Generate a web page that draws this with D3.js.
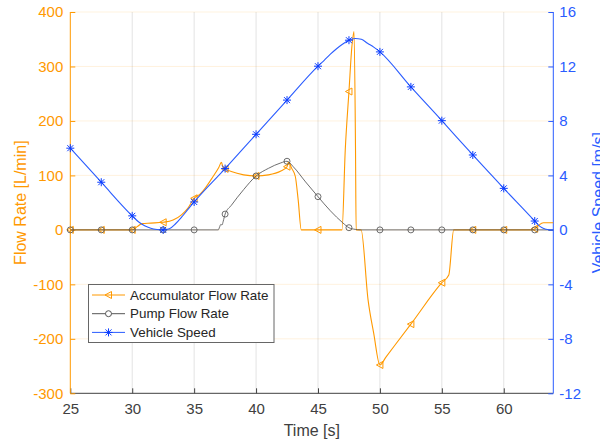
<!DOCTYPE html>
<html>
<head>
<meta charset="utf-8">
<script src="https://cdn.jsdelivr.net/npm/d3@7"></script>
<style>
  body { margin: 0; background: #fff; }
  svg { display: block; font-family: "Liberation Sans", Arial, Helvetica, sans-serif; }
</style>
</head>
<body>
<div id="chart"></div>
<script>
// time [s] and values
var accTime = [25, 27.5, 30, 30.4, 30.8, 31.5, 32.5, 33.3, 34, 34.5, 35, 35.5, 36, 36.5, 37, 37.2, 37.35, 37.5, 38, 39, 40, 41, 42, 42.5, 42.6, 42.9, 43.17, 43.4, 43.65, 45, 46.94, 47.2, 47.5, 47.75, 47.91, 48.03, 48.08, 48.48, 49.04, 49.5, 50, 50.5, 52.5, 55, 55.56, 55.96, 57.5, 60, 62.3, 62.5, 62.8, 63.2, 64];
var accFlow = [0, 0, 0, 6, 11.5, 12.5, 14, 18, 28, 40, 58, 66, 80, 97, 115, 124, 114, 112, 107, 101, 99, 101, 108, 116, 124, 112, 98, 55, 0, 0, 0, 146, 254, 340, 364, 146, 0, 0, -128, -190, -248, -233, -173, -97, -83, 0, 0, 0, 0, 2, 8, 13, 13];

var pumpTime = [25, 27.5, 30, 32.5, 35, 36.95, 37.05, 37.15, 37.25, 37.35, 37.5, 38, 39, 40, 41, 42, 42.5, 43, 44, 45, 46, 47, 47.5, 48, 48.4, 50, 52.5, 55, 57.5, 60, 62.5, 64];
var pumpFlow = [0, 0, 0, 0, 0, 0, 5, 10, 9, 16, 29, 45, 74, 99, 113, 123, 126, 116, 88, 61, 35, 13, 4, 1, 0, 0, 0, 0, 0, 0, 0, 0];

var speedTime = [25, 27.5, 30, 30.5, 31, 31.5, 32, 32.5, 33, 33.5, 34, 34.5, 35, 37.5, 40, 42.5, 45, 45.5, 46, 46.5, 47, 47.5, 48, 48.5, 49, 49.5, 50, 52.5, 55, 57.5, 60, 62.5, 62.8, 63.1, 63.4, 63.7, 64];
var speedVal = [6.0, 3.5, 1.03, 0.6, 0.3, 0.12, 0.03, 0, 0.08, 0.45, 0.95, 1.5, 2.05, 4.5, 7.02, 9.53, 12.02, 12.45, 12.9, 13.3, 13.65, 13.93, 14.05, 14.0, 13.7, 13.42, 13.07, 10.5, 8.02, 5.5, 3.05, 0.65, 0.35, 0.15, 0.05, 0.01, 0];

var xTicks = [25, 30, 35, 40, 45, 50, 55, 60];
var flowTicks = [-300, -200, -100, 0, 100, 200, 300, 400];
var speedTicks = [-12, -8, -4, 0, 4, 8, 12, 16];
var legendNames = ["Accumulator Flow Rate", "Pump Flow Rate", "Vehicle Speed"];

var W = 600, H = 442,
    pLeft = 70.3, pRight = 553.3, pTop = 12, pBottom = 393.3,
    orange = "#ff9900", blue = "#2a5cff", gray = "#555555", axisGray = "#404040";

var svg = d3.select("#chart").append("svg").attr("width", W).attr("height", H);

var x = d3.scaleLinear().domain([25, 64]).range([pLeft, pRight]);
var yFlow = d3.scaleLinear().domain([-300, 400]).range([pBottom, pTop]);
var ySpeed = d3.scaleLinear().domain([-12, 16]).range([pBottom, pTop]);

function zip(ts, vs){
    return ts.map(function(t, i){ return {t: t, v: vs[i]}; });
}
function isMarker(d){
    var k = d.t / 2.5;
    return Math.abs(k - Math.round(k)) < 1e-6 && d.t <= 62.5;
}
// plain hyphen minus, like the original figure
function plain(d){ return String(d); }

// grid
svg.append("g").selectAll("line").data(xTicks.slice(1)).enter().append("line")
    .attr("x1", function(d){ return x(d); }).attr("x2", function(d){ return x(d); })
    .attr("y1", pTop).attr("y2", pBottom)
    .attr("stroke", "#e3e3e3").attr("stroke-width", 1);
svg.append("g").selectAll("line").data(flowTicks.slice(1)).enter().append("line")
    .attr("x1", pLeft).attr("x2", pRight)
    .attr("y1", function(d){ return yFlow(d); }).attr("y2", function(d){ return yFlow(d); })
    .attr("stroke", "rgba(255,153,0,0.13)").attr("stroke-width", 1);

// axes
var xAxis = d3.axisBottom(x).tickValues(xTicks).tickSize(-5).tickPadding(10).tickFormat(plain);
var gx = svg.append("g").attr("transform", "translate(0," + pBottom + ")").call(xAxis);
gx.select(".domain").attr("stroke", axisGray).attr("d", "M" + pLeft + ",0H" + pRight);
gx.selectAll(".tick line").attr("stroke", axisGray);
gx.selectAll("text").attr("fill", axisGray).attr("font-size", "15px").attr("font-family", null);

var yAxisL = d3.axisLeft(yFlow).tickValues(flowTicks).tickSize(-5).tickPadding(7).tickFormat(plain);
var gyl = svg.append("g").attr("transform", "translate(" + pLeft + ",0)").call(yAxisL);
gyl.select(".domain").attr("stroke", orange).attr("d", "M0," + pTop + "V" + pBottom);
gyl.selectAll(".tick line").attr("stroke", orange);
gyl.selectAll("text").attr("fill", orange).attr("font-size", "15px").attr("font-family", null);

var yAxisR = d3.axisRight(ySpeed).tickValues(speedTicks).tickSize(-5).tickPadding(6).tickFormat(plain);
var gyr = svg.append("g").attr("transform", "translate(" + pRight + ",0)").call(yAxisR);
gyr.select(".domain").attr("stroke", blue).attr("d", "M0," + pTop + "V" + pBottom);
gyr.selectAll(".tick line").attr("stroke", blue);
gyr.selectAll("text").attr("fill", blue).attr("font-size", "15px").attr("font-family", null);

// axis titles
svg.append("text").attr("x", (pLeft + pRight) / 2).attr("y", 436)
    .attr("text-anchor", "middle").attr("font-size", "16px").attr("fill", axisGray).text("Time [s]");
svg.append("text").attr("transform", "translate(25.5," + ((pTop + pBottom) / 2) + ") rotate(-90)")
    .attr("text-anchor", "middle").attr("font-size", "16px").attr("fill", orange).text("Flow Rate [L/min]");
svg.append("text").attr("transform", "translate(603.5," + ((pTop + pBottom) / 2) + ") rotate(-90)")
    .attr("text-anchor", "middle").attr("font-size", "16px").attr("fill", blue).text("Vehicle Speed [m/s]");

// series
var accData = zip(accTime, accFlow),
    pumpData = zip(pumpTime, pumpFlow),
    speedData = zip(speedTime, speedVal);

var flowLine = d3.line().x(function(d){ return x(d.t); }).y(function(d){ return yFlow(d.v); }).curve(d3.curveMonotoneX);
var speedLine = d3.line().x(function(d){ return x(d.t); }).y(function(d){ return ySpeed(d.v); }).curve(d3.curveMonotoneX);

var triangle = "M-3.5,0L3,-3.5L3,3.5Z";
var star = "M-4,0H4M0,-4V4M-3,-3L3,3M-3,3L3,-3";

function drawMarkers(data, yScale, path, fill, stroke){
    svg.append("g").selectAll("path").data(data.filter(isMarker)).enter().append("path")
        .attr("transform", function(d){ return "translate(" + x(d.t) + "," + yScale(d.v) + ")"; })
        .attr("d", path).attr("fill", fill).attr("stroke", stroke).attr("stroke-width", 1);
}

svg.append("path").datum(accData).attr("d", flowLine)
    .attr("fill", "none").attr("stroke", orange).attr("stroke-width", 1.1);
drawMarkers(accData, yFlow, triangle, "none", orange);

svg.append("path").datum(pumpData).attr("d", flowLine)
    .attr("fill", "none").attr("stroke", gray).attr("stroke-width", 1).attr("stroke-opacity", 0.85);
svg.append("g").selectAll("circle").data(pumpData.filter(isMarker)).enter().append("circle")
    .attr("cx", function(d){ return x(d.t); }).attr("cy", function(d){ return yFlow(d.v); })
    .attr("r", 3).attr("fill", "none").attr("stroke", gray).attr("stroke-opacity", 0.85);

svg.append("path").datum(speedData).attr("d", speedLine)
    .attr("fill", "none").attr("stroke", blue).attr("stroke-width", 1.1);
drawMarkers(speedData, ySpeed, star, "none", "#0a3cff");

// legend
var lg = svg.append("g").attr("transform", "translate(88.5,284.5)");
lg.append("rect").attr("width", 185.5).attr("height", 58)
    .attr("fill", "#fff").attr("stroke", "#666").attr("stroke-width", 1);
var rows = lg.selectAll("g.row").data(legendNames).enter().append("g")
    .attr("class", "row")
    .attr("transform", function(d, i){ return "translate(0," + (10.5 + i * 18.7) + ")"; });
rows.append("line").attr("x1", 3.5).attr("x2", 36.5).attr("y1", 0).attr("y2", 0)
    .attr("stroke", function(d, i){ return [orange, gray, blue][i]; });
rows.append("path")
    .attr("transform", "translate(20,0)")
    .attr("d", function(d, i){ return i === 0 ? triangle : i === 2 ? star : d3.symbol(d3.symbolCircle, 28)(); })
    .attr("fill", function(d, i){ return i === 1 ? "#fff" : "none"; })
    .attr("stroke", function(d, i){ return [orange, gray, "#0a3cff"][i]; });
rows.append("text").attr("x", 41.5).attr("y", 0).attr("dy", "0.35em")
    .attr("font-size", "13.4px").attr("fill", "#262626").text(function(d){ return d; });
</script>
</body>
</html>
